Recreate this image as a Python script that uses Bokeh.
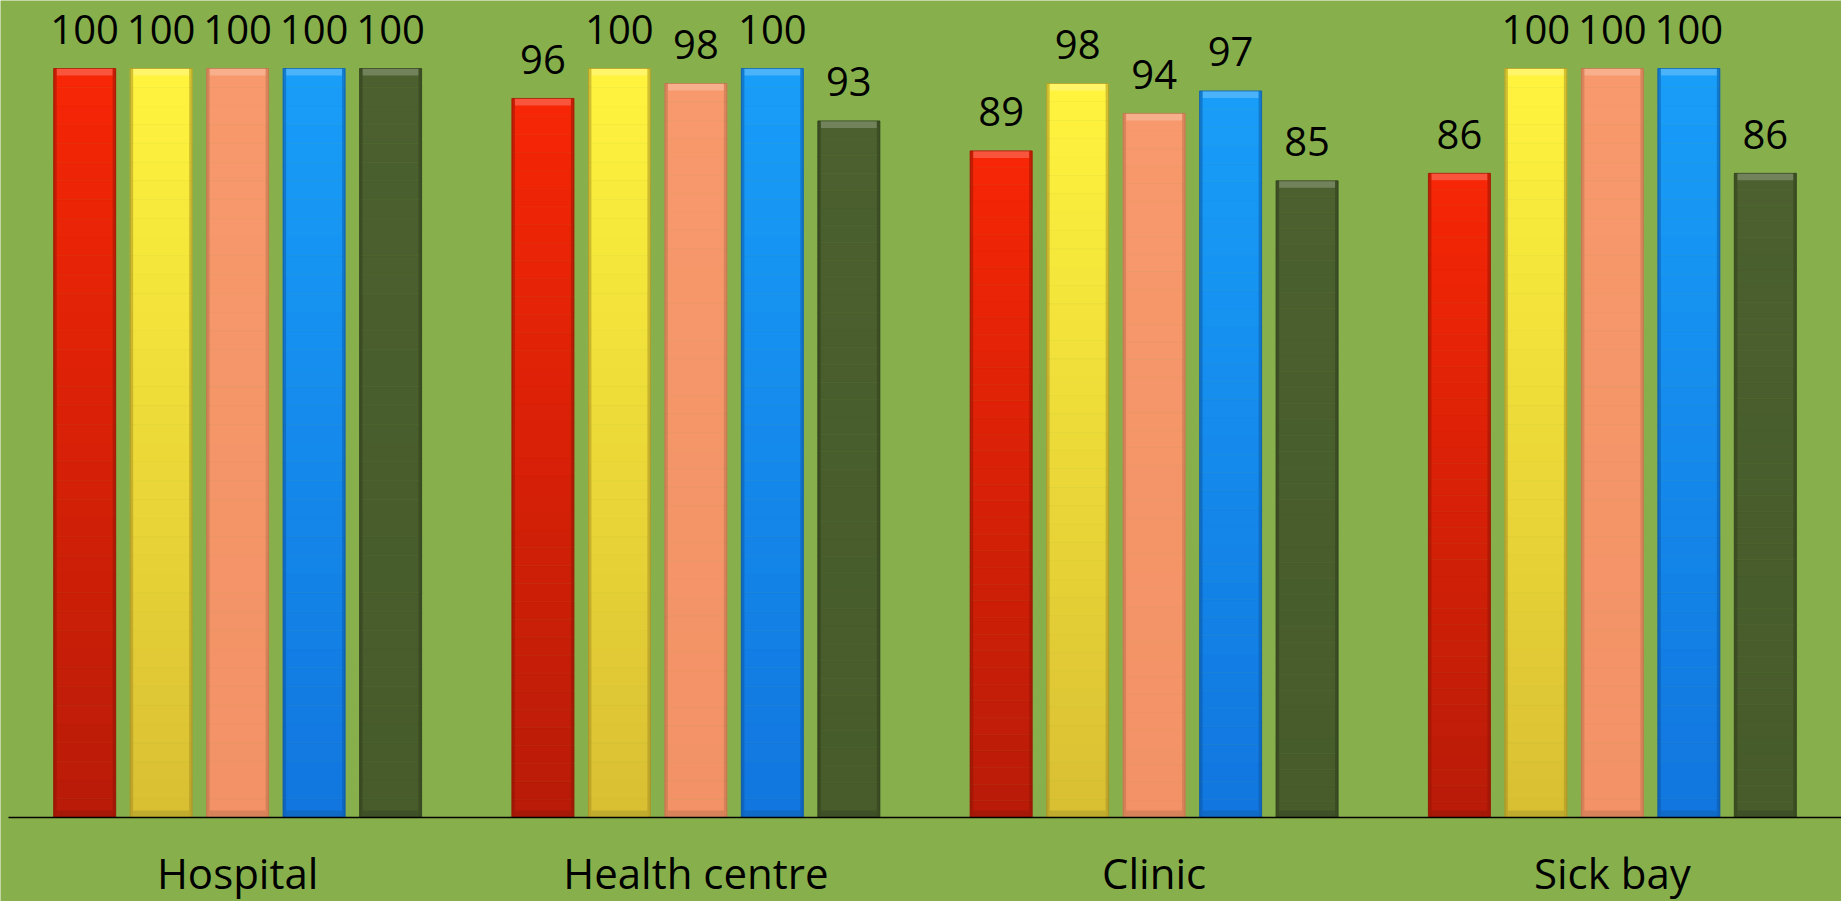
from bokeh.plotting import figure
from bokeh.models import Range1d, ColumnDataSource
from bokeh.core.properties import value
from bokeh.embed import file_html
from bokeh.resources import INLINE

# ---- data ----
facilities = ["Hospital", "Health centre", "Clinic", "Sick bay"]
series_red = [100, 96, 89, 86]
series_yellow = [100, 100, 98, 100]
series_salmon = [100, 98, 94, 100]
series_blue = [100, 100, 97, 100]
series_olive = [100, 93, 85, 86]

all_series = [series_red, series_yellow, series_salmon, series_blue, series_olive]
# (top colour, bottom colour) of the vertical gradient for each series
gradients = [
    ("#f72606", "#b81b08"),
    ("#fff43e", "#d9bf33"),
    ("#f7996c", "#f29266"),
    ("#189ef9", "#1176df"),
    ("#4b602e", "#475b2b"),
]
edge_colors = ["#8a1404", "#9c8420", "#b36a48", "#0b4f9a", "#2c3a1a"]

BG = "#87b04d"
W, H = 1841, 901
LEFT_GAP = 8             # blank strip before the first category (px)
AXIS_PX = 817            # pixel row of the category axis line
Y_MAX = 109.08
px_per_unit = AXIS_PX / Y_MAX
Y_MIN = -(H - AXIS_PX) / px_per_unit   # room under the axis for the category names
CAT_PX = (W - LEFT_GAP) / len(facilities)
PITCH = 0.1669      # distance between neighbouring bars (category units)
BAR_W = 0.1353      # bar width (category units)
N_SLICES = 40

# each category occupies one unit on the x scale; its centre sits at index + 0.5
centers = [k + 0.5 for k in range(len(facilities))]


def hex_to_rgb(h):
    h = h.lstrip("#")
    return tuple(int(h[i:i + 2], 16) for i in (0, 2, 4))


def lerp_color(c_bottom, c_top, t):
    a, b = hex_to_rgb(c_bottom), hex_to_rgb(c_top)
    return "#%02x%02x%02x" % tuple(round(a[k] + (b[k] - a[k]) * t) for k in range(3))


p = figure(
    width=W, height=H,
    x_range=Range1d(-LEFT_GAP / CAT_PX, len(facilities)),
    y_range=Range1d(Y_MIN, Y_MAX),
    x_axis_location=None, y_axis_location=None,
    output_backend="svg", toolbar_location=None,
    background_fill_color=BG, border_fill_color=BG,
    min_border=0, outline_line_color=None,
)
p.grid.visible = False

band = 7 / px_per_unit          # bevel band height in data units
side = 3 / CAT_PX               # side shading width in category units

for i, (vals, (c_top, c_bot), edge) in enumerate(zip(all_series, gradients, edge_colors)):
    off = (i - 2) * PITCH
    xpos = [c + off for c in centers]
    # gradient body built from thin horizontal slices
    xs, bottoms, tops, colors = [], [], [], []
    for x, v in zip(xpos, vals):
        for k in range(N_SLICES):
            xs.append(x)
            bottoms.append(v * k / N_SLICES)
            tops.append(v * (k + 1) / N_SLICES)
            colors.append(lerp_color(c_bot, c_top, (k + 0.5) / N_SLICES))
    src = ColumnDataSource(dict(x=xs, bottom=bottoms, top=tops, color=colors))
    p.vbar(x="x", bottom="bottom", top="top", width=BAR_W,
           fill_color="color", line_color="color", line_width=0.5, source=src)

    bar_src = ColumnDataSource(dict(
        x=xpos, top=vals,
        xl=[x - (BAR_W - side) / 2 for x in xpos],
        xr=[x + (BAR_W - side) / 2 for x in xpos],
        band_lo=[v - band for v in vals],
        label=[str(v) for v in vals],
    ))
    # bevel: lighter top band, darker bottom band
    p.vbar(x="x", bottom="band_lo", top="top", width=BAR_W - 2 * side,
           fill_color="white", fill_alpha=0.22, line_color=None, source=bar_src)
    p.vbar(x="x", bottom=0, top=band, width=BAR_W - 2 * side,
           fill_color="black", fill_alpha=0.10, line_color=None, source=bar_src)
    # darker side edges
    for col in ("xl", "xr"):
        p.vbar(x=col, bottom=0, top="top", width=side,
               fill_color=edge, fill_alpha=0.45, line_color=None, source=bar_src)
    # outline
    p.vbar(x="x", bottom=0, top="top", width=BAR_W,
           fill_color=None, line_color=edge, line_alpha=0.6, line_width=1, source=bar_src)

    # value labels
    p.text(x="x", y="top", text="label", source=bar_src,
           text_align="center", text_baseline="alphabetic", y_offset=-39,
           text_font=value("Open Sans"), text_font_size="40px", text_color="black")

# category axis line and category names
p.segment(x0=0, y0=0, x1=len(facilities), y1=0, line_color="black", line_width=1.5)
cat_src = ColumnDataSource(dict(x=centers, y=[0] * len(facilities), name=facilities))
p.text(x="x", y="y", text="name", source=cat_src,
       text_align="center", text_baseline="alphabetic", y_offset=55,
       text_font=value("Open Sans"), text_font_size="42px", text_color="black")

open("out.html", "w").write(file_html(p, INLINE))
